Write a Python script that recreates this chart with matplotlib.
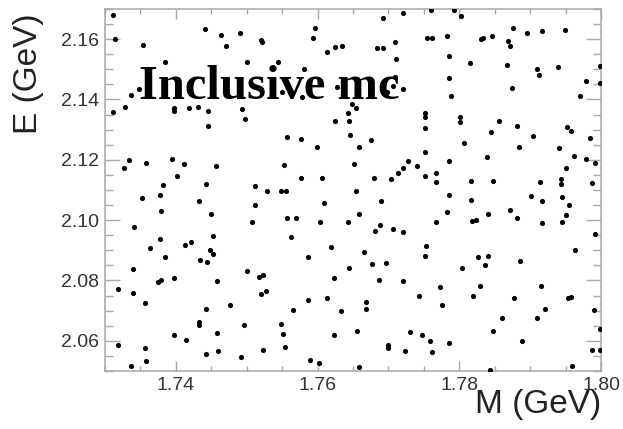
import numpy as np
import matplotlib
matplotlib.use("Agg")
import matplotlib.pyplot as plt
from matplotlib.ticker import MultipleLocator

# reconstructed event positions (GeV)
m_vals = [
    1.7311, 1.7314, 1.7354, 1.7441, 1.7464, 1.7471, 1.7491, 1.7520, 1.7522, 1.7385,
    1.7500, 1.7348, 1.7336, 1.7328, 1.7311, 1.7398, 1.7398, 1.7418, 1.7431, 1.7445,
    1.7494, 1.7497, 1.7446,
    1.7760, 1.7720, 1.7693, 1.7596, 1.7594, 1.7754, 1.7761, 1.7635, 1.7625, 1.7613,
    1.7684, 1.7692, 1.7709, 1.7711, 1.7544, 1.7581, 1.7709, 1.7706, 1.7721, 1.7698,
    1.7550, 1.7578, 1.7627, 1.7649, 1.7654, 1.7643, 1.7624, 1.7645, 1.7752, 1.7752,
    1.7751,
    1.7792, 1.7802, 1.7876, 1.7895, 1.7917, 1.7949, 1.7783, 1.7831, 1.7834, 1.7846,
    1.7869, 1.7871, 1.7786, 1.7815, 1.7868, 1.7909, 1.7913, 1.7940, 1.7999, 1.7786,
    1.7979, 1.7998, 1.7874, 1.7789, 1.7971, 1.7801, 1.7801, 1.7856, 1.7881, 1.7952,
    1.7845, 1.7904, 1.7957, 1.7984, 1.7807, 1.7884, 1.7941, 1.7786, 1.7839, 1.7962,
    1.7979, 1.7992, 1.7951, 1.7817, 1.7847, 1.7914, 1.7944, 1.7943, 1.7988, 1.7786,
    1.7817, 1.7901, 1.7917, 1.7945, 1.7955, 1.7782, 1.7871, 1.7841, 1.7881, 1.7950,
    1.7818, 1.7824, 1.7917, 1.7945, 1.7991, 1.7964,
    1.7334, 1.7327, 1.7358, 1.7394, 1.7412, 1.7457, 1.7401, 1.7382, 1.7443, 1.7511,
    1.7528, 1.7352, 1.7378, 1.7433, 1.7512, 1.7379, 1.7449, 1.7508, 1.7341, 1.7378,
    1.7452, 1.7413, 1.7422, 1.7364, 1.7448,
    1.7557, 1.7577, 1.7599, 1.7646, 1.7675, 1.7658, 1.7752, 1.7553, 1.7651, 1.7728,
    1.7741, 1.7721, 1.7713, 1.7703, 1.7752, 1.7767, 1.7767, 1.7577, 1.7606, 1.7679,
    1.7548, 1.7555, 1.7654, 1.7609, 1.7690, 1.7659, 1.7557, 1.7569, 1.7604, 1.7643,
    1.7767, 1.7688, 1.7681, 1.7707, 1.7720, 1.7562, 1.7619, 1.7753, 1.7666,
    1.7453, 1.7385, 1.7434, 1.7444, 1.7340, 1.7500, 1.7517, 1.7523, 1.7375, 1.7379,
    1.7398, 1.7458, 1.7318, 1.7339, 1.7520, 1.7527, 1.7357, 1.7476, 1.7442, 1.7432,
    1.7432, 1.7496, 1.7398, 1.7458, 1.7414, 1.7319, 1.7356, 1.7523, 1.7442, 1.7460,
    1.7492, 1.7358, 1.7337,
    1.7586, 1.7677, 1.7697, 1.7751, 1.7644, 1.7623, 1.7687, 1.7721, 1.7586, 1.7613,
    1.7669, 1.7668, 1.7743, 1.7565, 1.7633, 1.7549, 1.7551, 1.7554, 1.7623, 1.7655,
    1.7730, 1.7747, 1.7758, 1.7700, 1.7700, 1.7724, 1.7762, 1.7589, 1.7602, 1.7658,
    1.7827, 1.7840, 1.7836, 1.7804, 1.7885, 1.7773, 1.7829, 1.7820, 1.7877, 1.7915,
    1.7953, 1.7957, 1.7776, 1.7860, 1.7909, 1.7921, 1.7990, 1.7847, 1.7999, 1.7786,
    1.7889, 1.7987, 1.7999, 1.7959, 1.7844,
]
e_vals = [
    2.1680, 2.1600, 2.1581, 2.1635, 2.1614, 2.1579, 2.1622, 2.1597, 2.1592, 2.1524,
    2.1524, 2.1436, 2.1414, 2.1376, 2.1360, 2.1373, 2.1362, 2.1373, 2.1374, 2.1361,
    2.1368, 2.1334, 2.1311,
    2.1697, 2.1686, 2.1669, 2.1636, 2.1603, 2.1603, 2.1603, 2.1578, 2.1573, 2.1557,
    2.1570, 2.1570, 2.1591, 2.1533, 2.1523, 2.1502, 2.1476, 2.1445, 2.1435, 2.1425,
    2.1426, 2.1409, 2.1443, 2.1385, 2.1371, 2.1354, 2.1330, 2.1328, 2.1354, 2.1343,
    2.1306,
    2.1697, 2.1678, 2.1636, 2.1622, 2.1627, 2.1631, 2.1612, 2.1600, 2.1605, 2.1610,
    2.1593, 2.1579, 2.1544, 2.1520, 2.1515, 2.1501, 2.1481, 2.1507, 2.1511, 2.1472,
    2.1461, 2.1455, 2.1439, 2.1411, 2.1413, 2.1342, 2.1326, 2.1328, 2.1311, 2.1310,
    2.1292, 2.1280, 2.1295, 2.1273, 2.1257, 2.1242, 2.1238, 2.1197, 2.1208, 2.1213,
    2.1204, 2.1190, 2.1174, 2.1129, 2.1129, 2.1127, 2.1137, 2.1121, 2.1122, 2.1084,
    2.1068, 2.1079, 2.1062, 2.1078, 2.1050, 2.1028, 2.1034, 2.1021, 2.1006, 2.1017,
    2.0996, 2.1001, 2.0990, 2.0994, 2.0953, 2.0900,
    2.1200, 2.1173, 2.1189, 2.1204, 2.1187, 2.1179, 2.1145, 2.1117, 2.1120, 2.1112,
    2.1097, 2.1072, 2.1082, 2.1064, 2.1051, 2.1029, 2.1020, 2.0995, 2.0976, 2.0938,
    2.0947, 2.0918, 2.0928, 2.0909, 2.0902,
    2.1276, 2.1269, 2.1244, 2.1281, 2.1267, 2.1242, 2.1225, 2.1182, 2.1185, 2.1196,
    2.1178, 2.1172, 2.1156, 2.1137, 2.1145, 2.1156, 2.1125, 2.1141, 2.1141, 2.1141,
    2.1097, 2.1097, 2.1097, 2.1056, 2.1064, 2.1020, 2.1007, 2.1007, 2.0995, 2.0993,
    2.0993, 2.0984, 2.0964, 2.0970, 2.0961, 2.0945, 2.0912, 2.0913, 2.0893,
    2.0888, 2.0879, 2.0869, 2.0860, 2.0837, 2.0832, 2.0810, 2.0819, 2.0794, 2.0801,
    2.0807, 2.0799, 2.0772, 2.0758, 2.0754, 2.0765, 2.0727, 2.0719, 2.0707, 2.0664,
    2.0654, 2.0653, 2.0619, 2.0625, 2.0603, 2.0587, 2.0575, 2.0569, 2.0555, 2.0565,
    2.0547, 2.0534, 2.0518,
    2.0877, 2.0855, 2.0857, 2.0882, 2.0842, 2.0809, 2.0800, 2.0797, 2.0734, 2.0743,
    2.0729, 2.0706, 2.0749, 2.0703, 2.0699, 2.0655, 2.0622, 2.0579, 2.0620, 2.0631,
    2.0628, 2.0619, 2.0599, 2.0585, 2.0576, 2.0567, 2.0562, 2.0535, 2.0528, 2.0513,
    2.0879, 2.0881, 2.0853, 2.0842, 2.0864, 2.0777, 2.0781, 2.0748, 2.0742, 2.0782,
    2.0741, 2.0745, 2.0718, 2.0676, 2.0675, 2.0705, 2.0702, 2.0632, 2.0638, 2.0593,
    2.0601, 2.0569, 2.0570, 2.0518, 2.0502,
]

m_range = (1.73, 1.80)
e_range = (2.05, 2.17)
x_ticks = [1.74, 1.76, 1.78, 1.80]
y_ticks = [2.06, 2.08, 2.10, 2.12, 2.14, 2.16]

sans = ["Liberation Sans", "DejaVu Sans"]
frame_col = "#a8a8a8"

fig = plt.figure(figsize=(6.23, 4.29), dpi=100)
ax = fig.add_axes([105 / 623, 1 - 371 / 429, 496 / 623, 362 / 429])

ax.plot(m_vals, e_vals, "o", ms=3.7, color="black", mec="none", zorder=3)

ax.set_xlim(*m_range)
ax.set_ylim(*e_range)
ax.set_xticks(x_ticks)
ax.set_yticks(y_ticks)
ax.set_xticklabels([f"{v:.2f}" for v in x_ticks])
ax.set_yticklabels([f"{v:.2f}" for v in y_ticks])
ax.xaxis.set_minor_locator(MultipleLocator(0.005))
ax.yaxis.set_minor_locator(MultipleLocator(0.005))

for s in ax.spines.values():
    s.set_color(frame_col)
    s.set_linewidth(1.1)

ax.tick_params(axis="both", which="both", direction="in", top=True, right=True,
               color=frame_col, width=1.0, labelcolor="#333333", pad=4)
ax.tick_params(axis="x", which="major", length=7.2)
ax.tick_params(axis="x", which="minor", length=3.6)
ax.tick_params(axis="y", which="major", length=10.8)
ax.tick_params(axis="y", which="minor", length=5.8)
for lab in ax.get_xticklabels() + ax.get_yticklabels():
    lab.set_fontfamily(sans)
    lab.set_fontsize(14)

fig.text(601 / 623, 1 - 413 / 429, "M (GeV)", ha="right", va="baseline",
         fontsize=24, family=sans, color="#222222")
fig.text(29 / 623, 1 - 13 / 429, "E (GeV)", ha="center", va="top", rotation=90,
         fontsize=24, family=sans, color="#222222")

fig.text(139 / 623, 1 - 99 / 429, "Inclusive mc", ha="left", va="baseline",
         fontsize=35, fontweight="bold", family=["Liberation Serif", "DejaVu Serif"],
         color="black", zorder=5)

fig.savefig("out.png", dpi=100)
